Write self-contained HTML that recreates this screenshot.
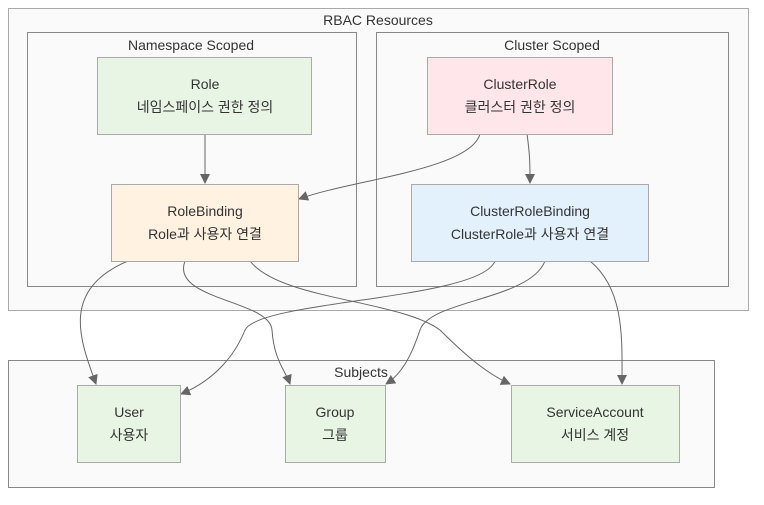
<!DOCTYPE html>
<html><head><meta charset="utf-8"><style>
body{margin:0;background:#fff}
text{font-family:"Liberation Sans","Noto Sans CJK KR",sans-serif;font-size:14px;fill:#333;text-anchor:middle}
</style></head><body>
<svg width="764" height="500" viewBox="0 0 764 500" xmlns="http://www.w3.org/2000/svg">
<defs><marker id="a" markerWidth="10" markerHeight="10" refX="9" refY="5" orient="auto" markerUnits="userSpaceOnUse"><path d="M0,0 L10,5 L0,10 z" fill="#666"/></marker></defs>
<rect x="8.5" y="8.5" width="740" height="302" fill="#fafafa" stroke="#aaa"/>
<text x="378" y="25">RBAC Resources</text>
<rect x="27.5" y="32.5" width="329" height="254" fill="#fafafa" stroke="#888"/>
<text x="191" y="50">Namespace Scoped</text>
<rect x="376.5" y="32.5" width="352" height="254" fill="#fafafa" stroke="#888"/>
<text x="552" y="50">Cluster Scoped</text>
<rect x="8.5" y="360.5" width="706" height="127" fill="#fafafa" stroke="#888"/>
<text x="361" y="377">Subjects</text>
<g fill="none" stroke="#666" stroke-width="1">
<path d="M205,134 L205,183" marker-end="url(#a)"/>
<path d="M480,134 C470,170 350,180 299,199" marker-end="url(#a)"/>
<path d="M527,134 C530,155 530,165 530,183" marker-end="url(#a)"/>
<path d="M128,261 C60,290 80,340 96,384" marker-end="url(#a)"/>
<path d="M185,261 C170,300 270,300 272,330 C274,360 285,370 290,384" marker-end="url(#a)"/>
<path d="M250,261 C280,300 400,300 440,330 C470,360 490,375 510,384" marker-end="url(#a)"/>
<path d="M495,261 C480,300 260,300 245,330 C235,355 215,380 181,394" marker-end="url(#a)"/>
<path d="M545,261 C530,300 430,300 420,330 C410,360 400,375 386,384" marker-end="url(#a)"/>
<path d="M590,261 C625,290 622,340 622,384" marker-end="url(#a)"/>
</g>
<g stroke="#aaa">
<rect x="97.5" y="57.5" width="214" height="77" fill="#e9f5e4"/>
<rect x="427.5" y="57.5" width="185" height="77" fill="#ffe6ea"/>
<rect x="111.5" y="184.5" width="187" height="77" fill="#fff2e0"/>
<rect x="411.5" y="184.5" width="237" height="77" fill="#e3f1fd"/>
<rect x="77.5" y="385.5" width="103" height="77" fill="#e9f5e4"/>
<rect x="285.5" y="385.5" width="100" height="77" fill="#e9f5e4"/>
<rect x="511.5" y="385.5" width="168" height="77" fill="#e9f5e4"/>
</g>
<text x="205" y="89">Role</text><text x="205" y="112">네임스페이스 권한 정의</text>
<text x="520" y="89">ClusterRole</text><text x="520" y="112">클러스터 권한 정의</text>
<text x="205" y="216">RoleBinding</text><text x="205" y="239">Role과 사용자 연결</text>
<text x="530" y="216">ClusterRoleBinding</text><text x="530" y="239">ClusterRole과 사용자 연결</text>
<text x="129" y="417">User</text><text x="129" y="440">사용자</text>
<text x="335" y="417">Group</text><text x="335" y="440">그룹</text>
<text x="595" y="417">ServiceAccount</text><text x="595" y="440">서비스 계정</text>
</svg>
</body></html>
